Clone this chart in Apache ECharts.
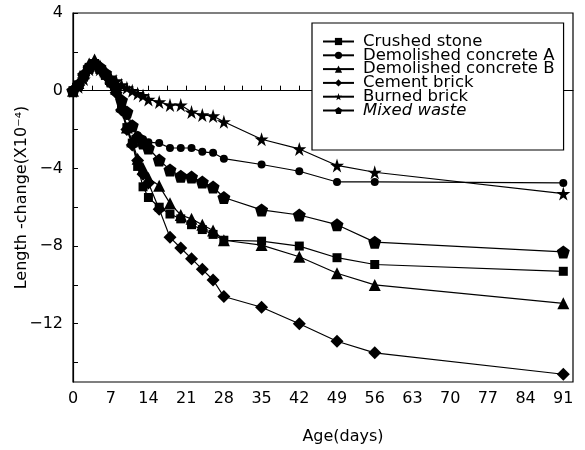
<!DOCTYPE html>
<html>
<head>
<meta charset="utf-8">
<script src="https://cdn.jsdelivr.net/npm/echarts@6/dist/echarts.min.js"></script>
<style>
	html, body {margin: 0; padding: 0; background: #fff;}
	#chart {width: 585px; height: 450px;}
</style>
</head>
<body>
<div id="chart"></div>
<script>
// 龄期(天)
var days = [0, 1, 2, 3, 4, 5, 6, 7, 8, 9, 10, 11, 12, 13, 14, 16, 18, 20, 22, 24, 26, 28, 35, 42, 49, 56, 91];
// 各骨料的长度变化 (x10^-4)
var crushedStone = [0, 0.3, 0.8, 1.2, 1.4, 1.1, 0.8, 0.5, 0.0, -0.9, -1.9, -2.7, -3.9, -4.95, -5.5, -6.0, -6.35, -6.6, -6.9, -7.15, -7.4, -7.7, -7.75, -8.0, -8.6, -8.95, -9.3];
var demolishedA = [0, 0.3, 0.8, 1.2, 1.4, 1.2, 0.9, 0.5, 0.1, -0.6, -1.3, -1.9, -2.3, -2.5, -2.65, -2.7, -2.95, -2.95, -2.95, -3.15, -3.2, -3.5, -3.8, -4.15, -4.7, -4.7, -4.75];
var demolishedB = [0, 0.4, 0.9, 1.4, 1.6, 1.3, 1.0, 0.6, 0.1, -0.8, -1.9, -2.6, -3.5, -4.0, -4.5, -4.9, -5.8, -6.4, -6.6, -6.9, -7.2, -7.7, -7.95, -8.55, -9.4, -10.0, -10.95];
var cementBrick = [0, 0.3, 0.8, 1.2, 1.4, 1.1, 0.8, 0.4, -0.1, -1.0, -2.0, -2.8, -3.6, -4.3, -4.75, -6.1, -7.55, -8.1, -8.65, -9.2, -9.75, -10.6, -11.15, -12.0, -12.9, -13.5, -14.6];
var burnedBrick = [0, 0.2, 0.6, 1.1, 1.3, 1.1, 0.9, 0.7, 0.5, 0.3, 0.15, 0, -0.15, -0.25, -0.45, -0.58, -0.74, -0.74, -1.1, -1.25, -1.3, -1.6, -2.5, -3.0, -3.85, -4.2, -5.3];
var mixedWaste = [0, 0.3, 0.8, 1.2, 1.4, 1.2, 0.9, 0.5, 0.1, -0.5, -1.1, -1.8, -2.4, -2.7, -2.95, -3.57, -4.08, -4.4, -4.45, -4.7, -4.96, -5.5, -6.14, -6.4, -6.9, -7.8, -8.3];

var seriesNames = ['Crushed stone', 'Demolished concrete A', 'Demolished concrete B', 'Cement brick', 'Burned brick', 'Mixed waste'];
// 刻度
var xLabels = [0, 7, 14, 21, 28, 35, 42, 49, 56, 63, 70, 77, 84, 91];
var xTicks = [0, 3.5, 7, 10.5, 14, 17.5, 21, 24.5, 28, 31.5, 35, 38.5, 42, 45.5, 49, 52.5, 56, 59.5, 63, 66.5, 70, 73.5, 77, 80.5, 84, 87.5, 91];
var yLabels = [4, 0, -4, -8, -12];
var yTicks = [4, 2, 0, -2, -4, -6, -8, -10, -12, -14];

var STAR = 'path://M50,0 L61,35 L98,35 L68,57 L79,91 L50,70 L21,91 L32,57 L2,35 L39,35 Z';
var PENTAGON = 'path://M50,0 L100,38 L81,100 L19,100 L0,38 Z';
var FONT = 'DejaVu Sans';

var Chart = function(){
	this.el = document.getElementById('chart');
	this.symbols = [
		{symbol: 'rect', size: 9},
		{symbol: 'circle', size: 8},
		{symbol: 'triangle', size: 12},
		{symbol: 'diamond', size: 13},
		{symbol: STAR, size: 14},
		{symbol: PENTAGON, size: 13}
	];
}

Chart.prototype = {
	init: function(){
		var _this = this;
		var lists = [crushedStone, demolishedA, demolishedB, cementBrick, burnedBrick, mixedWaste];
		var series = [];
		for (var i = 0; i < lists.length; i++){
			series.push(_this.makeSeries(seriesNames[i], lists[i], _this.symbols[i]));
		}
		var myChart = echarts.init(_this.el, null, {renderer: 'canvas'});
		myChart.setOption(_this.getOption(series));
	},
	makeSeries: function(name, vals, sym){
		var data = [];
		for (var j = 0; j < days.length; j++){
			data.push([days[j], vals[j]]);
		}
		return {
			name: name,
			type: 'line',
			data: data,
			symbol: sym.symbol,
			symbolSize: sym.size,
			showAllSymbol: true,
			lineStyle: {color: '#000', width: 1.2},
			itemStyle: {color: '#000', borderWidth: 0}
		};
	},
	getOption: function(series){
		var legendData = [];
		for (var i = 0; i < seriesNames.length; i++){
			var item = {name: seriesNames[i]};
			if (i == seriesNames.length - 1) item.textStyle = {fontStyle: 'italic'};	//最后一项是斜体
			legendData.push(item);
		}
		return {
			animation: false,
			backgroundColor: '#fff',
			textStyle: {fontFamily: FONT, color: '#000'},
			grid: {
				left: 73, right: 12, top: 13, bottom: 68,
				show: true, borderColor: '#000', borderWidth: 1.2,
				outerBoundsMode: 'none'
			},
			legend: {
				orient: 'vertical',
				left: 312,
				top: 23,
				itemGap: -3.2,	//行距很紧
				itemWidth: 31,
				itemHeight: 9,
				padding: [10, 9, 31, 10],
				borderColor: '#000',
				borderWidth: 1.2,
				backgroundColor: '#fff',
				textStyle: {fontFamily: FONT, fontSize: 16.5, color: '#000', padding: [0, 0, 0, 4]},
				data: legendData
			},
			xAxis: {
				type: 'value',
				min: 0,
				max: 92.8,
				name: 'Age(days)',
				nameLocation: 'middle',
				nameGap: 47,
				nameMoveOverlap: false,
				nameTextStyle: {fontFamily: FONT, fontSize: 16, color: '#000', padding: [0, 0, 0, 40]},
				axisLine: {show: true, lineStyle: {color: '#000', width: 1.2}},
				axisTick: {show: true, inside: true, length: 5, customValues: xTicks, lineStyle: {color: '#000'}},
				axisLabel: {customValues: xLabels, margin: 9, fontFamily: FONT, fontSize: 16, color: '#000'},
				splitLine: {show: false}
			},
			yAxis: {
				type: 'value',
				min: -15,
				max: 4,
				name: 'Length -change(X10⁻⁴)',
				nameLocation: 'middle',
				nameGap: 43,
				nameMoveOverlap: false,
				nameTextStyle: {fontFamily: FONT, fontSize: 16, color: '#000'},
				axisLine: {show: true, lineStyle: {color: '#000', width: 1.2}},
				axisTick: {show: true, inside: true, length: 5, customValues: yTicks, lineStyle: {color: '#000'}},
				axisLabel: {customValues: yLabels, margin: 10, fontFamily: FONT, fontSize: 16, color: '#000',
					formatter: function(v){ return v < 0 ? '\u2212' + (-v) : '' + v; }},
				splitLine: {show: false}
			},
			series: series
		};
	}
}

new Chart().init();
</script>
</body>
</html>
